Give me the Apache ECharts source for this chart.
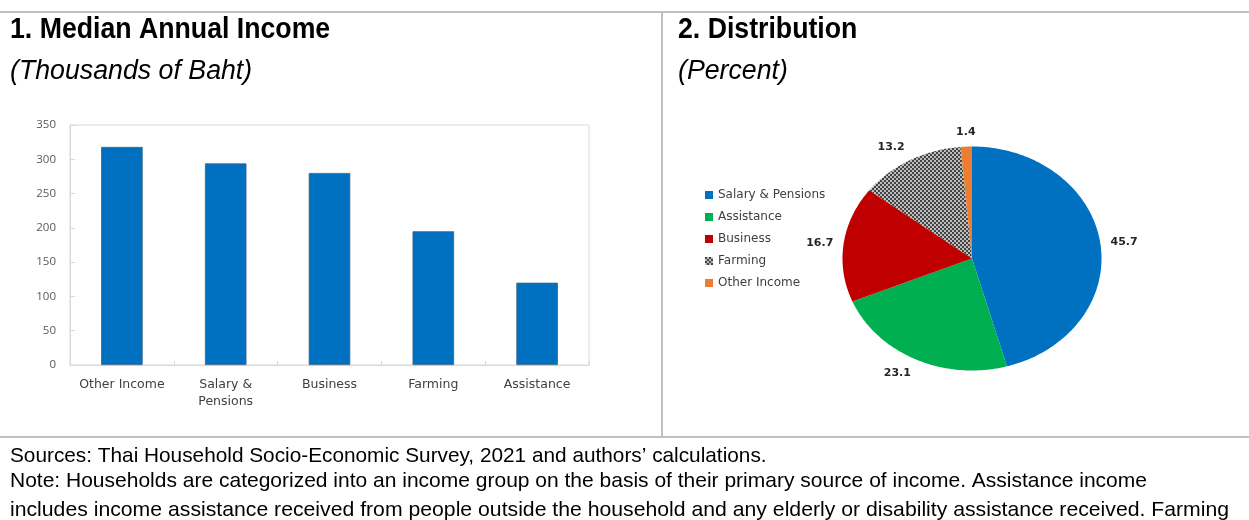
<!DOCTYPE html>
<html>
<head>
<meta charset="utf-8">
<script src="https://cdn.jsdelivr.net/npm/echarts@6/dist/echarts.min.js"></script>
<style>
  html, body { margin: 0; padding: 0; background: #ffffff; }
  #chart { width: 1249px; height: 520px; }
</style>
</head>
<body>
<div id="chart"></div>
<script>
// Panel 1: median annual income by primary income source (thousands of baht)
const incomeCategories = ['Other Income', 'Salary &\nPensions', 'Business', 'Farming', 'Assistance'];
const medianIncome = [318, 294, 280, 195, 120];
const incomeAxisMin = 0;
const incomeAxisMax = 350;
const incomeAxisStep = 50;

// Panel 2: distribution of households by primary income source (percent)
const shareNames = ['Salary & Pensions', 'Assistance', 'Business', 'Farming', 'Other Income'];
const shareValues = [45.7, 23.1, 16.7, 13.2, 1.4];

// Text blocks
const panelTitles = ['1. Median Annual Income', '2. Distribution'];
const panelUnits = ['(Thousands of Baht)', '(Percent)'];
const noteLines = [
  'Sources: Thai Household Socio-Economic Survey, 2021 and authors\u2019 calculations.',
  'Note: Households are categorized into an income group on the basis of their primary source of income. Assistance income',
  'includes income assistance received from people outside the household and any elderly or disability assistance received. Farming'
];

// Fine checker texture used for the farming slice
function checkerTexture() {
  const c = document.createElement('canvas');
  c.width = 4; c.height = 4;
  const g = c.getContext('2d');
  g.fillStyle = '#bdbdbd';
  g.fillRect(0, 0, 4, 4);
  g.fillStyle = '#444444';
  g.fillRect(0, 0, 2, 2);
  g.fillRect(2, 2, 2, 2);
  return c;
}
const farmTexture = { image: checkerTexture(), repeat: 'repeat' };
const sliceColors = ['#0070c0', '#00b050', '#c00000', farmTexture, '#ed7d31'];

const shareTotal = shareValues.reduce((a, b) => a + b, 0);
const shareStarts = shareValues.map((v, i) => shareValues.slice(0, i).reduce((a, b) => a + b, 0));

// Elliptical pie drawn in a unit-square value grid, clockwise from 12 o'clock
function makeSliceRenderer(idx) {
  return function (params, api) {
    const v = api.value(0);
    const a0 = 2 * Math.PI * shareStarts[idx] / shareTotal;
    const a1 = 2 * Math.PI * (shareStarts[idx] + v) / shareTotal;
    const steps = Math.max(4, Math.ceil((a1 - a0) / 0.02));
    const pts = [api.coord([0, 0])];
    for (let k = 0; k <= steps; k++) {
      const t = a0 + (a1 - a0) * k / steps;
      pts.push(api.coord([Math.sin(t), Math.cos(t)]));
    }
    const mid = (a0 + a1) / 2;
    const sx = Math.sin(mid), cy = Math.cos(mid);
    const anchor = api.coord([1.08 * sx, 1.08 * cy]);
    const align = sx > 0.3 ? 'left' : (sx < -0.3 ? 'right' : 'center');
    const valign = cy > 0.3 ? 'bottom' : (cy < -0.3 ? 'top' : 'middle');
    return {
      type: 'group',
      children: [
        { type: 'polygon', shape: { points: pts }, style: { fill: sliceColors[idx] } },
        {
          type: 'text', x: anchor[0], y: anchor[1],
          style: {
            text: v.toFixed(1), fill: '#262626',
            font: 'bold 11px "DejaVu Sans", sans-serif',
            align: align, verticalAlign: valign,
            textAlign: align, textVerticalAlign: valign
          }
        }
      ]
    };
  };
}

const sliceSeries = shareNames.map((name, i) => ({
  name: name,
  type: 'custom',
  coordinateSystem: 'cartesian2d',
  xAxisIndex: 1,
  yAxisIndex: 1,
  clip: false,
  silent: true,
  itemStyle: { color: sliceColors[i] },
  data: [[shareValues[i]]],
  renderItem: makeSliceRenderer(i)
}));

const ruleColor = '#c0c0c0';
const arialFont = '"Liberation Sans", Arial, sans-serif';

function textBlock(x, y, str, font, sx) {
  return {
    type: 'text', x: x, y: y, scaleX: sx,
    style: { text: str, font: font, fill: '#000', textVerticalAlign: 'bottom', verticalAlign: 'bottom' }
  };
}

const chart = echarts.init(document.getElementById('chart'), null, { renderer: 'canvas' });
chart.setOption({
  animation: false,
  backgroundColor: '#ffffff',
  grid: [
    { left: 70, top: 125, right: 660, bottom: 155, show: true, borderColor: '#d9d9d9', borderWidth: 1, containLabel: false },
    { left: 842.5, top: 146.5, width: 259, height: 224, show: false }
  ],
  xAxis: [
    {
      type: 'category', gridIndex: 0, data: incomeCategories,
      axisLine: { lineStyle: { color: '#d9d9d9' } },
      axisTick: { show: true, inside: true, length: 4, lineStyle: { color: '#d9d9d9' } },
      axisLabel: { color: '#404040', fontSize: 12.5, lineHeight: 17, margin: 11, fontFamily: '"DejaVu Sans", sans-serif', interval: 0 }
    },
    { type: 'value', gridIndex: 1, min: -1, max: 1, show: false }
  ],
  yAxis: [
    {
      type: 'value', gridIndex: 0, min: incomeAxisMin, max: incomeAxisMax, interval: incomeAxisStep,
      splitLine: { show: false },
      axisLine: { show: true, lineStyle: { color: '#d9d9d9' } },
      axisTick: { show: true, inside: true, length: 5, lineStyle: { color: '#d9d9d9' } },
      axisLabel: { color: '#595959', fontSize: 11.5, margin: 14, fontFamily: '"Open Sans", sans-serif' }
    },
    { type: 'value', gridIndex: 1, min: -1, max: 1, show: false }
  ],
  legend: {
    data: shareNames,
    orient: 'vertical',
    left: 705, top: 188,
    padding: 0,
    itemWidth: 8, itemHeight: 8, itemGap: 8,
    icon: 'rect',
    selectedMode: false,
    textStyle: { color: '#404040', fontSize: 12, lineHeight: 14, fontFamily: '"DejaVu Sans", sans-serif' }
  },
  series: [
    {
      name: 'Median annual income',
      type: 'bar',
      xAxisIndex: 0, yAxisIndex: 0,
      barWidth: '40%',
      silent: true,
      itemStyle: { color: '#0070c0', borderColor: '#3d5f80', borderWidth: 0.8 },
      data: medianIncome
    }
  ].concat(sliceSeries),
  graphic: [
    { type: 'line', shape: { x1: 0, y1: 12, x2: 1249, y2: 12 }, style: { stroke: ruleColor, lineWidth: 2 } },
    { type: 'line', shape: { x1: 662, y1: 12, x2: 662, y2: 437 }, style: { stroke: ruleColor, lineWidth: 2 } },
    { type: 'line', shape: { x1: 0, y1: 437, x2: 1249, y2: 437 }, style: { stroke: ruleColor, lineWidth: 2 } },
    textBlock(10, 44, panelTitles[0], 'bold 29px ' + arialFont, 0.92),
    textBlock(678, 44, panelTitles[1], 'bold 29px ' + arialFont, 0.92),
    textBlock(10, 85, panelUnits[0], 'italic 27px ' + arialFont, 0.99),
    textBlock(678, 85, panelUnits[1], 'italic 27px ' + arialFont, 0.99),
    textBlock(10, 467, noteLines[0], '21px ' + arialFont, 0.99),
    textBlock(10, 492, noteLines[1], '21px ' + arialFont, 1.0),
    textBlock(10, 521, noteLines[2], '21px ' + arialFont, 1.01)
  ]
});
</script>
</body>
</html>
